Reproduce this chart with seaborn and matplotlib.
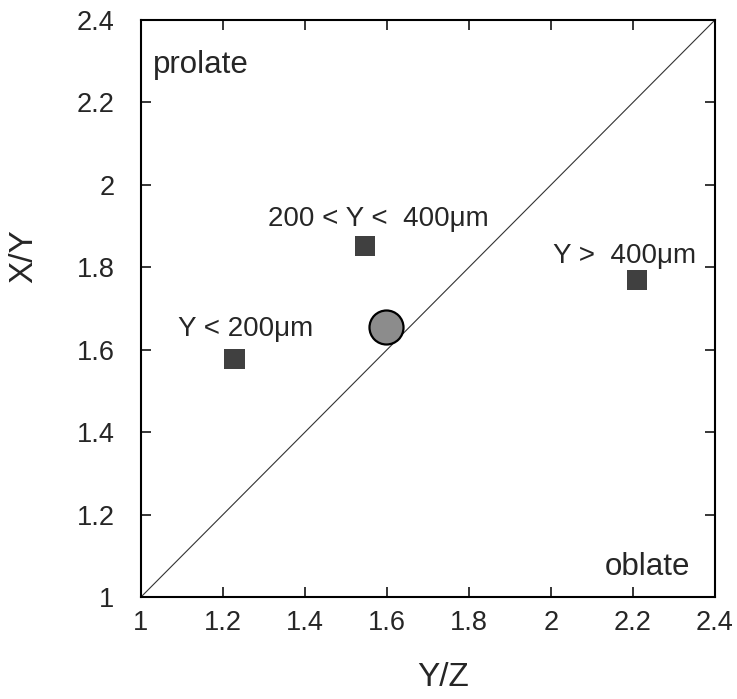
import matplotlib
matplotlib.use("Agg")
import matplotlib.pyplot as plt
import seaborn as sns
import pandas as pd

# data
yz_groups = [1.228, 1.547, 2.21]
xy_groups = [1.578, 1.852, 1.770]
group_labels = ["Y < 200\u03bcm", "200 < Y <  400\u03bcm", "Y >  400\u03bcm"]
label_x = [1.255, 1.578, 2.180]
label_y = [1.633, 1.901, 1.811]
yz_mean = [1.597]
xy_mean = [1.655]
ticks = [1, 1.2, 1.4, 1.6, 1.8, 2, 2.2, 2.4]
tick_labels = ["1", "1.2", "1.4", "1.6", "1.8", "2", "2.2", "2.4"]

sns.set_style("ticks")
plt.rcParams['font.family'] = ['Liberation Sans', 'DejaVu Sans']

fig = plt.figure(figsize=(7.37, 6.99), dpi=100)
ax = fig.add_axes([0.1913, 0.1459, 0.7788, 0.8255])

ax.plot([1, 2.4], [1, 2.4], color="#333333", lw=0.8, zorder=1)

df = pd.DataFrame({"yz": yz_groups, "xy": xy_groups, "label": group_labels})
sns.scatterplot(data=df, x="yz", y="xy", marker="s", s=210, color="#404040",
                edgecolor="none", ax=ax, zorder=3)
dm = pd.DataFrame({"yz": yz_mean, "xy": xy_mean})
sns.scatterplot(data=dm, x="yz", y="xy", marker="o", s=600, color="#8c8c8c",
                edgecolor="black", linewidth=1.6, ax=ax, zorder=4)

for x, y, t in zip(label_x, label_y, group_labels):
    ax.text(x, y, t, ha="center", va="baseline", fontsize=20)

ax.text(1.029, 2.272, "prolate", ha="left", va="baseline", fontsize=22.5)
ax.text(2.339, 1.053, "oblate", ha="right", va="baseline", fontsize=22.5)

ax.set_xlim(1, 2.4)
ax.set_ylim(1, 2.4)
ax.set_xticks(ticks)
ax.set_xticklabels(tick_labels)
ax.set_yticks(ticks)
ax.set_yticklabels(tick_labels)
ax.tick_params(direction="in", length=7, width=1.3, labelsize=19.5, top=True, right=True)
ax.tick_params(axis="x", pad=9)
ax.tick_params(axis="y", pad=19)
for s in ax.spines.values():
    s.set_linewidth(1.5)
    s.set_color("black")
ax.set_xlabel("Y/Z", fontsize=24)
ax.set_ylabel("X/Y", fontsize=24)
ax.xaxis.set_label_coords(0.526, -0.113)
ax.yaxis.set_label_coords(-0.178, 0.591)

fig.savefig("out.png", dpi=100)
